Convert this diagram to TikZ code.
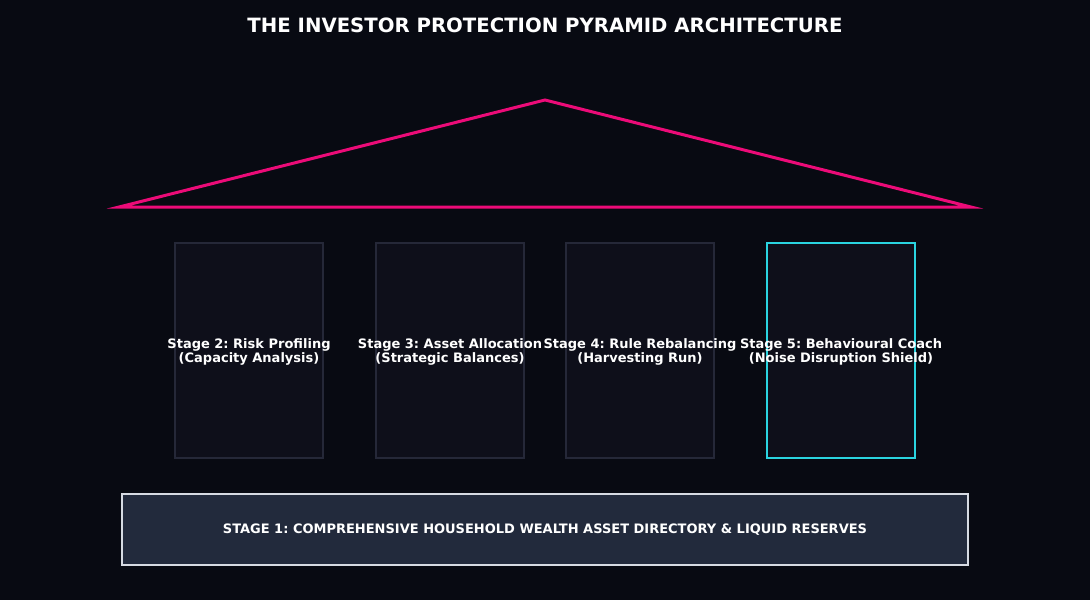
\documentclass[tikz,border=0pt]{standalone}
\usepackage{fontspec}
\setmainfont{DejaVu Sans}
\usepackage{tikz}
\usetikzlibrary{calc, positioning}
\definecolor{nightInk}{HTML}{080A12}
\definecolor{roofPink}{HTML}{EC0B78}
\definecolor{pillarFill}{HTML}{0E0F1A}
\definecolor{pillarEdge}{HTML}{252838}
\definecolor{shieldCyan}{HTML}{2AD4E0}
\definecolor{baseFill}{HTML}{222A3C}
\definecolor{baseEdge}{HTML}{D6DAE2}
\frenchspacing
\tikzset{
  pillar/.style = {draw=pillarEdge, line width=1.5pt, fill=pillarFill,
                   minimum width=148pt, minimum height=215pt, inner sep=0pt},
  hot/.style    = {draw=shieldCyan, line width=1.5pt},
  tag/.style    = {font=\bfseries\fontsize{13}{14.5}\selectfont, text=white, align=center, inner sep=0pt},
  base/.style   = {draw=baseEdge, line width=1.2pt, fill=baseFill,
                   minimum width=846pt, minimum height=71pt, inner sep=0pt},
  roof/.style   = {draw=roofPink, line width=3pt, line join=miter}
}

\begin{document}
\begin{tikzpicture}[x=1pt, y=-1pt]
  \fill[nightInk] (0,0) rectangle (1090,600);
  \useasboundingbox (0,0) rectangle (1090,600);

  \node[font=\bfseries\fontsize{19.7}{22}\selectfont, text=white] (title) at (545,25)
    {THE INVESTOR PROTECTION PYRAMID ARCHITECTURE};

  % roof
  \coordinate (apex) at (545,100);
  \coordinate (eaveL) at (119,207);
  \coordinate (eaveR) at (971,207);
  \draw[roof] (eaveL) -- (apex) -- (eaveR) -- cycle;

  % pillars
  \node[pillar] (s2) at (249,350.5) {};
  \node[pillar] (s3) at (450,350.5) {};
  \node[pillar] (s4) at (640,350.5) {};
  \node[pillar, hot] (s5) at (841,350.5) {};

  \node[tag] at ($(s2)+(0,1.5)$) {Stage 2: Risk Profiling\\(Capacity Analysis)};
  \node[tag] at ($(s3)+(0,1.5)$) {Stage 3: Asset Allocation\\(Strategic Balances)};
  \node[tag] at ($(s4)+(0,1.5)$) {Stage 4: Rule Rebalancing\\(Harvesting Run)};
  \node[tag] at ($(s5)+(0,1.5)$) {Stage 5: Behavioural Coach\\(Noise Disruption Shield)};

  % foundation
  \node[base, font=\bfseries\fontsize{13}{15}\selectfont, text=white] (s1) at (545,529.5)
    {STAGE 1: COMPREHENSIVE HOUSEHOLD WEALTH ASSET DIRECTORY \& LIQUID RESERVES};
\end{tikzpicture}
\end{document}
